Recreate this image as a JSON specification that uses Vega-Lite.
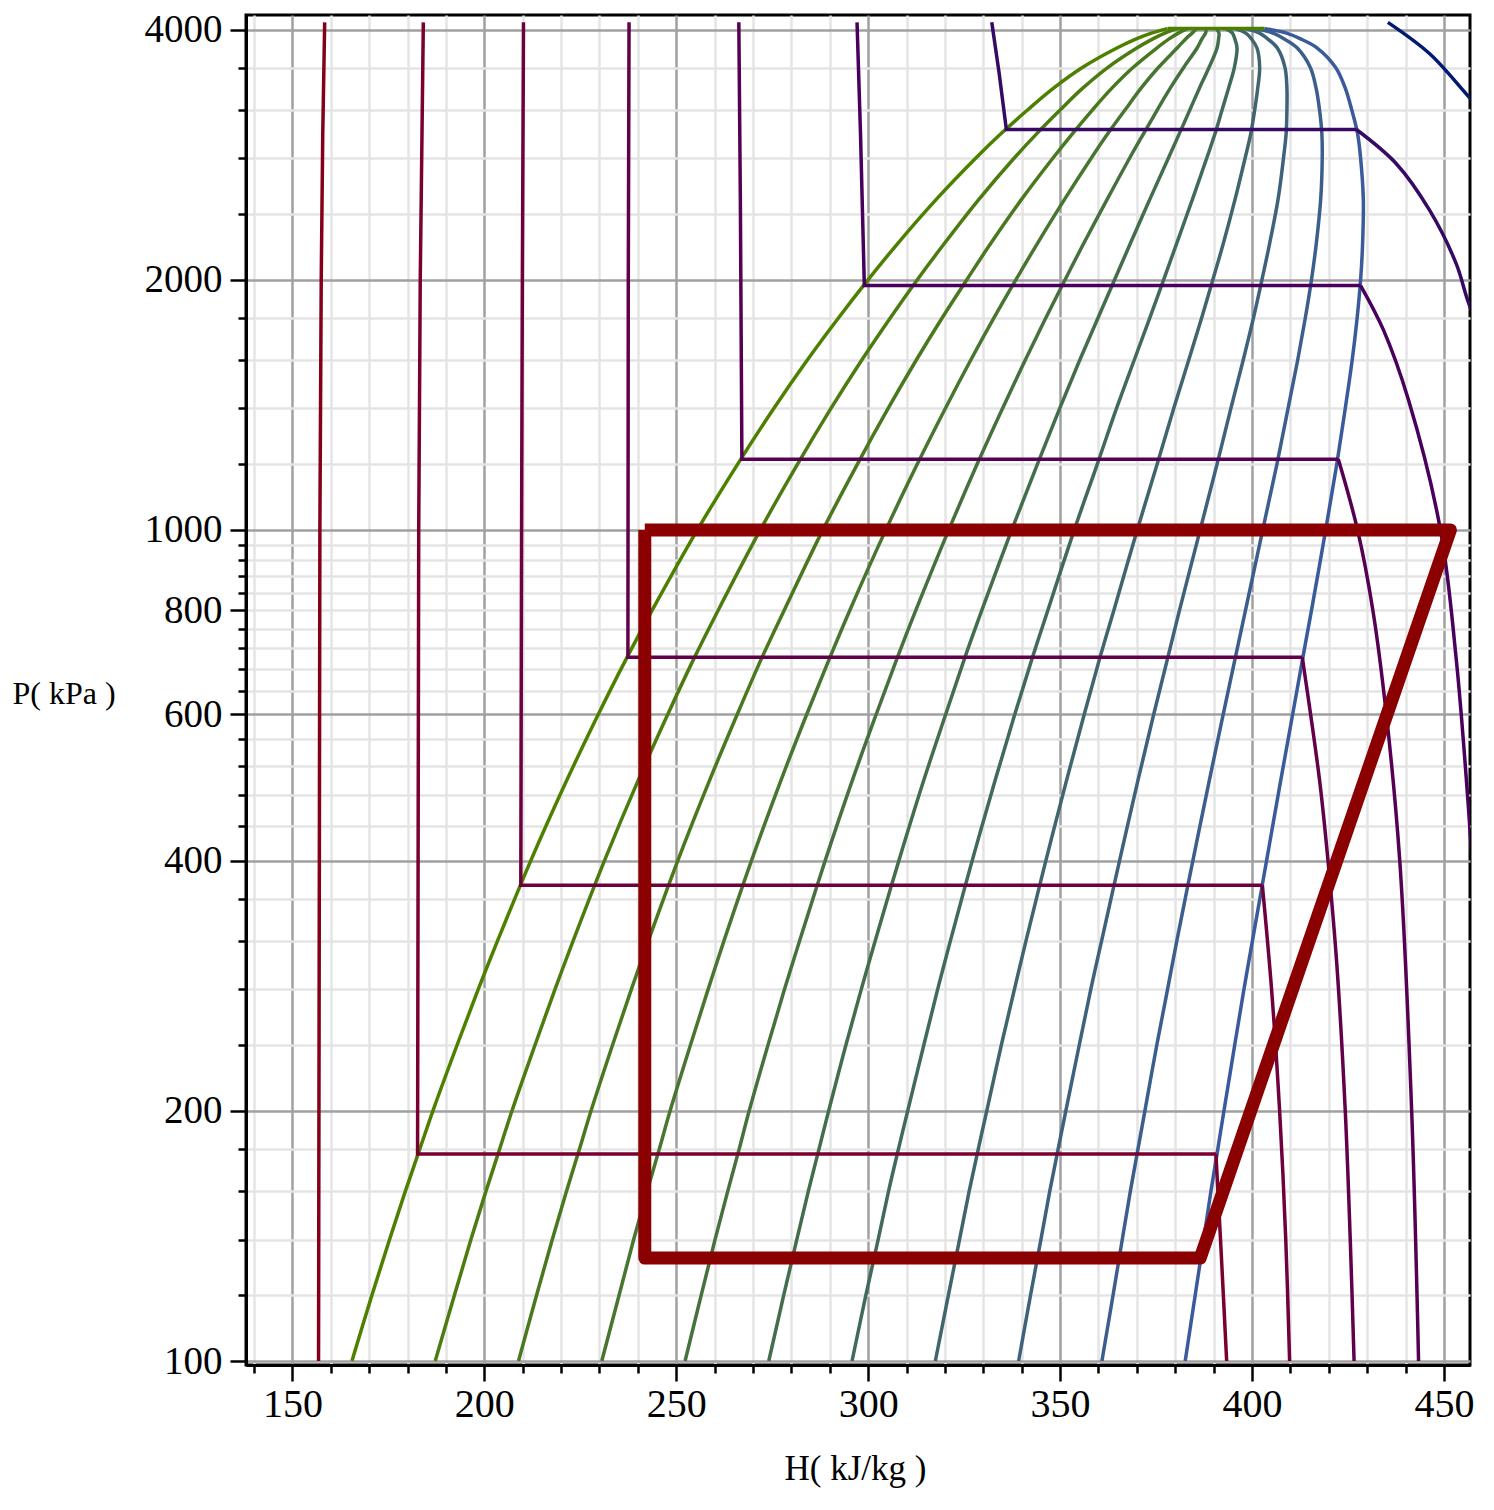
{
"$schema": "https://vega.github.io/schema/vega-lite/v6.json",
"width": 1224, "height": 1350,
"autosize": {"type": "none"},
"padding": {"left": 246, "top": 15, "right": 24, "bottom": 145},
"background": "white",
"config": {"view": {"stroke": "black", "strokeWidth": 3}, "font": "Liberation Serif"},
"datasets": {
"q": [
{"s":"q0","h":165.5,"p":100},{"s":"q0","h":170.7,"p":120},{"s":"q0","h":175.3,"p":140},{"s":"q0","h":179.4,"p":160},{"s":"q0","h":183.2,"p":180},{"s":"q0","h":186.6,"p":200},{"s":"q0","h":192.9,"p":240},{"s":"q0","h":198.4,"p":280},{"s":"q0","h":203.4,"p":320},{"s":"q0","h":212.1,"p":400},{"s":"q0","h":221.5,"p":500},{"s":"q0","h":229.7,"p":600},{"s":"q0","h":237.0,"p":700},{"s":"q0","h":243.7,"p":800},{"s":"q0","h":255.5,"p":1000},{"s":"q0","h":266.0,"p":1200},{"s":"q0","h":275.4,"p":1400},{"s":"q0","h":284.1,"p":1600},{"s":"q0","h":292.3,"p":1800},{"s":"q0","h":300.0,"p":2000},{"s":"q0","h":307.3,"p":2200},{"s":"q0","h":317.8,"p":2500},{"s":"q0","h":328.0,"p":2800},{"s":"q0","h":334.7,"p":3000},{"s":"q0","h":341.5,"p":3200},{"s":"q0","h":348.3,"p":3400},{"s":"q0","h":355.8,"p":3600},{"s":"q0","h":364.8,"p":3800},{"s":"q0","h":370.0,"p":3900},{"s":"q0","h":373.8,"p":3960},{"s":"q0","h":378.0,"p":4010},
{"s":"q1","h":187.2,"p":100},{"s":"q1","h":192.2,"p":120},{"s":"q1","h":196.5,"p":140},{"s":"q1","h":200.4,"p":160},{"s":"q1","h":204.0,"p":180},{"s":"q1","h":207.2,"p":200},{"s":"q1","h":213.2,"p":240},{"s":"q1","h":218.4,"p":280},{"s":"q1","h":223.1,"p":320},{"s":"q1","h":231.3,"p":400},{"s":"q1","h":240.1,"p":500},{"s":"q1","h":247.8,"p":600},{"s":"q1","h":254.6,"p":700},{"s":"q1","h":260.9,"p":800},{"s":"q1","h":271.9,"p":1000},{"s":"q1","h":281.6,"p":1200},{"s":"q1","h":290.3,"p":1400},{"s":"q1","h":298.3,"p":1600},{"s":"q1","h":305.8,"p":1800},{"s":"q1","h":312.8,"p":2000},{"s":"q1","h":319.5,"p":2200},{"s":"q1","h":328.9,"p":2500},{"s":"q1","h":338.0,"p":2800},{"s":"q1","h":344.0,"p":3000},{"s":"q1","h":350.0,"p":3200},{"s":"q1","h":355.9,"p":3400},{"s":"q1","h":362.4,"p":3600},{"s":"q1","h":370.0,"p":3800},{"s":"q1","h":374.3,"p":3900},{"s":"q1","h":377.3,"p":3960},{"s":"q1","h":380.5,"p":4010},
{"s":"q2","h":208.9,"p":100},{"s":"q2","h":213.6,"p":120},{"s":"q2","h":217.7,"p":140},{"s":"q2","h":221.4,"p":160},{"s":"q2","h":224.8,"p":180},{"s":"q2","h":227.8,"p":200},{"s":"q2","h":233.4,"p":240},{"s":"q2","h":238.3,"p":280},{"s":"q2","h":242.7,"p":320},{"s":"q2","h":250.4,"p":400},{"s":"q2","h":258.7,"p":500},{"s":"q2","h":265.9,"p":600},{"s":"q2","h":272.2,"p":700},{"s":"q2","h":278.1,"p":800},{"s":"q2","h":288.2,"p":1000},{"s":"q2","h":297.2,"p":1200},{"s":"q2","h":305.2,"p":1400},{"s":"q2","h":312.5,"p":1600},{"s":"q2","h":319.3,"p":1800},{"s":"q2","h":325.7,"p":2000},{"s":"q2","h":331.6,"p":2200},{"s":"q2","h":340.0,"p":2500},{"s":"q2","h":348.1,"p":2800},{"s":"q2","h":353.3,"p":3000},{"s":"q2","h":358.4,"p":3200},{"s":"q2","h":363.5,"p":3400},{"s":"q2","h":369.0,"p":3600},{"s":"q2","h":375.2,"p":3800},{"s":"q2","h":378.5,"p":3900},{"s":"q2","h":380.8,"p":3960},{"s":"q2","h":383.1,"p":4010},
{"s":"q3","h":230.6,"p":100},{"s":"q3","h":235.1,"p":120},{"s":"q3","h":238.9,"p":140},{"s":"q3","h":242.4,"p":160},{"s":"q3","h":245.6,"p":180},{"s":"q3","h":248.4,"p":200},{"s":"q3","h":253.7,"p":240},{"s":"q3","h":258.3,"p":280},{"s":"q3","h":262.4,"p":320},{"s":"q3","h":269.6,"p":400},{"s":"q3","h":277.3,"p":500},{"s":"q3","h":284.0,"p":600},{"s":"q3","h":289.9,"p":700},{"s":"q3","h":295.2,"p":800},{"s":"q3","h":304.6,"p":1000},{"s":"q3","h":312.8,"p":1200},{"s":"q3","h":320.1,"p":1400},{"s":"q3","h":326.7,"p":1600},{"s":"q3","h":332.8,"p":1800},{"s":"q3","h":338.5,"p":2000},{"s":"q3","h":343.8,"p":2200},{"s":"q3","h":351.2,"p":2500},{"s":"q3","h":358.1,"p":2800},{"s":"q3","h":362.5,"p":3000},{"s":"q3","h":366.9,"p":3200},{"s":"q3","h":371.1,"p":3400},{"s":"q3","h":375.6,"p":3600},{"s":"q3","h":380.5,"p":3800},{"s":"q3","h":382.8,"p":3900},{"s":"q3","h":384.4,"p":3960},{"s":"q3","h":385.6,"p":4010},
{"s":"q4","h":252.3,"p":100},{"s":"q4","h":256.5,"p":120},{"s":"q4","h":260.1,"p":140},{"s":"q4","h":263.4,"p":160},{"s":"q4","h":266.4,"p":180},{"s":"q4","h":269.0,"p":200},{"s":"q4","h":273.9,"p":240},{"s":"q4","h":278.2,"p":280},{"s":"q4","h":282.1,"p":320},{"s":"q4","h":288.8,"p":400},{"s":"q4","h":295.9,"p":500},{"s":"q4","h":302.1,"p":600},{"s":"q4","h":307.5,"p":700},{"s":"q4","h":312.4,"p":800},{"s":"q4","h":321.0,"p":1000},{"s":"q4","h":328.4,"p":1200},{"s":"q4","h":335.0,"p":1400},{"s":"q4","h":340.9,"p":1600},{"s":"q4","h":346.3,"p":1800},{"s":"q4","h":351.3,"p":2000},{"s":"q4","h":355.9,"p":2200},{"s":"q4","h":362.3,"p":2500},{"s":"q4","h":368.1,"p":2800},{"s":"q4","h":371.8,"p":3000},{"s":"q4","h":375.3,"p":3200},{"s":"q4","h":378.7,"p":3400},{"s":"q4","h":382.2,"p":3600},{"s":"q4","h":385.7,"p":3800},{"s":"q4","h":387.0,"p":3900},{"s":"q4","h":387.9,"p":3960},{"s":"q4","h":388.1,"p":4010},
{"s":"q5","h":274.1,"p":100},{"s":"q5","h":278.0,"p":120},{"s":"q5","h":281.4,"p":140},{"s":"q5","h":284.4,"p":160},{"s":"q5","h":287.2,"p":180},{"s":"q5","h":289.7,"p":200},{"s":"q5","h":294.2,"p":240},{"s":"q5","h":298.2,"p":280},{"s":"q5","h":301.8,"p":320},{"s":"q5","h":308.0,"p":400},{"s":"q5","h":314.5,"p":500},{"s":"q5","h":320.2,"p":600},{"s":"q5","h":325.1,"p":700},{"s":"q5","h":329.6,"p":800},{"s":"q5","h":337.4,"p":1000},{"s":"q5","h":344.1,"p":1200},{"s":"q5","h":349.9,"p":1400},{"s":"q5","h":355.1,"p":1600},{"s":"q5","h":359.9,"p":1800},{"s":"q5","h":364.2,"p":2000},{"s":"q5","h":368.1,"p":2200},{"s":"q5","h":373.4,"p":2500},{"s":"q5","h":378.2,"p":2800},{"s":"q5","h":381.1,"p":3000},{"s":"q5","h":383.8,"p":3200},{"s":"q5","h":386.3,"p":3400},{"s":"q5","h":388.8,"p":3600},{"s":"q5","h":390.9,"p":3800},{"s":"q5","h":391.3,"p":3900},{"s":"q5","h":391.4,"p":3960},{"s":"q5","h":390.7,"p":4010},
{"s":"q6","h":295.8,"p":100},{"s":"q6","h":299.4,"p":120},{"s":"q6","h":302.6,"p":140},{"s":"q6","h":305.3,"p":160},{"s":"q6","h":307.9,"p":180},{"s":"q6","h":310.3,"p":200},{"s":"q6","h":314.5,"p":240},{"s":"q6","h":318.1,"p":280},{"s":"q6","h":321.4,"p":320},{"s":"q6","h":327.1,"p":400},{"s":"q6","h":333.1,"p":500},{"s":"q6","h":338.2,"p":600},{"s":"q6","h":342.7,"p":700},{"s":"q6","h":346.8,"p":800},{"s":"q6","h":353.7,"p":1000},{"s":"q6","h":359.7,"p":1200},{"s":"q6","h":364.7,"p":1400},{"s":"q6","h":369.3,"p":1600},{"s":"q6","h":373.4,"p":1800},{"s":"q6","h":377.0,"p":2000},{"s":"q6","h":380.2,"p":2200},{"s":"q6","h":384.5,"p":2500},{"s":"q6","h":388.2,"p":2800},{"s":"q6","h":390.4,"p":3000},{"s":"q6","h":392.2,"p":3200},{"s":"q6","h":393.9,"p":3400},{"s":"q6","h":395.4,"p":3600},{"s":"q6","h":396.1,"p":3800},{"s":"q6","h":395.5,"p":3900},{"s":"q6","h":394.9,"p":3960},{"s":"q6","h":393.2,"p":4010},
{"s":"q7","h":317.5,"p":100},{"s":"q7","h":320.9,"p":120},{"s":"q7","h":323.8,"p":140},{"s":"q7","h":326.3,"p":160},{"s":"q7","h":328.7,"p":180},{"s":"q7","h":330.9,"p":200},{"s":"q7","h":334.7,"p":240},{"s":"q7","h":338.1,"p":280},{"s":"q7","h":341.1,"p":320},{"s":"q7","h":346.3,"p":400},{"s":"q7","h":351.7,"p":500},{"s":"q7","h":356.3,"p":600},{"s":"q7","h":360.3,"p":700},{"s":"q7","h":364.0,"p":800},{"s":"q7","h":370.1,"p":1000},{"s":"q7","h":375.3,"p":1200},{"s":"q7","h":379.6,"p":1400},{"s":"q7","h":383.5,"p":1600},{"s":"q7","h":386.9,"p":1800},{"s":"q7","h":389.8,"p":2000},{"s":"q7","h":392.4,"p":2200},{"s":"q7","h":395.6,"p":2500},{"s":"q7","h":398.2,"p":2800},{"s":"q7","h":399.7,"p":3000},{"s":"q7","h":400.7,"p":3200},{"s":"q7","h":401.5,"p":3400},{"s":"q7","h":402.0,"p":3600},{"s":"q7","h":401.3,"p":3800},{"s":"q7","h":399.8,"p":3900},{"s":"q7","h":398.4,"p":3960},{"s":"q7","h":395.7,"p":4010},
{"s":"q8","h":339.2,"p":100},{"s":"q8","h":342.3,"p":120},{"s":"q8","h":345.0,"p":140},{"s":"q8","h":347.3,"p":160},{"s":"q8","h":349.5,"p":180},{"s":"q8","h":351.5,"p":200},{"s":"q8","h":355.0,"p":240},{"s":"q8","h":358.0,"p":280},{"s":"q8","h":360.8,"p":320},{"s":"q8","h":365.5,"p":400},{"s":"q8","h":370.3,"p":500},{"s":"q8","h":374.4,"p":600},{"s":"q8","h":378.0,"p":700},{"s":"q8","h":381.1,"p":800},{"s":"q8","h":386.5,"p":1000},{"s":"q8","h":390.9,"p":1200},{"s":"q8","h":394.5,"p":1400},{"s":"q8","h":397.7,"p":1600},{"s":"q8","h":400.4,"p":1800},{"s":"q8","h":402.6,"p":2000},{"s":"q8","h":404.5,"p":2200},{"s":"q8","h":406.8,"p":2500},{"s":"q8","h":408.2,"p":2800},{"s":"q8","h":408.9,"p":3000},{"s":"q8","h":409.1,"p":3200},{"s":"q8","h":409.1,"p":3400},{"s":"q8","h":408.6,"p":3600},{"s":"q8","h":406.6,"p":3800},{"s":"q8","h":404.0,"p":3900},{"s":"q8","h":402.0,"p":3960},{"s":"q8","h":398.2,"p":4010},
{"s":"q9","h":360.9,"p":100},{"s":"q9","h":363.8,"p":120},{"s":"q9","h":366.2,"p":140},{"s":"q9","h":368.3,"p":160},{"s":"q9","h":370.3,"p":180},{"s":"q9","h":372.1,"p":200},{"s":"q9","h":375.2,"p":240},{"s":"q9","h":378.0,"p":280},{"s":"q9","h":380.4,"p":320},{"s":"q9","h":384.6,"p":400},{"s":"q9","h":388.9,"p":500},{"s":"q9","h":392.5,"p":600},{"s":"q9","h":395.6,"p":700},{"s":"q9","h":398.3,"p":800},{"s":"q9","h":402.8,"p":1000},{"s":"q9","h":406.5,"p":1200},{"s":"q9","h":409.4,"p":1400},{"s":"q9","h":411.9,"p":1600},{"s":"q9","h":413.9,"p":1800},{"s":"q9","h":415.5,"p":2000},{"s":"q9","h":416.7,"p":2200},{"s":"q9","h":417.9,"p":2500},{"s":"q9","h":418.3,"p":2800},{"s":"q9","h":418.2,"p":3000},{"s":"q9","h":417.6,"p":3200},{"s":"q9","h":416.7,"p":3400},{"s":"q9","h":415.2,"p":3600},{"s":"q9","h":411.8,"p":3800},{"s":"q9","h":408.3,"p":3900},{"s":"q9","h":405.5,"p":3960},{"s":"q9","h":400.8,"p":4010},
{"s":"q10","h":382.6,"p":100},{"s":"q10","h":385.2,"p":120},{"s":"q10","h":387.4,"p":140},{"s":"q10","h":389.3,"p":160},{"s":"q10","h":391.1,"p":180},{"s":"q10","h":392.7,"p":200},{"s":"q10","h":395.5,"p":240},{"s":"q10","h":397.9,"p":280},{"s":"q10","h":400.1,"p":320},{"s":"q10","h":403.8,"p":400},{"s":"q10","h":407.5,"p":500},{"s":"q10","h":410.6,"p":600},{"s":"q10","h":413.2,"p":700},{"s":"q10","h":415.5,"p":800},{"s":"q10","h":419.2,"p":1000},{"s":"q10","h":422.1,"p":1200},{"s":"q10","h":424.3,"p":1400},{"s":"q10","h":426.1,"p":1600},{"s":"q10","h":427.4,"p":1800},{"s":"q10","h":428.3,"p":2000},{"s":"q10","h":428.8,"p":2200},{"s":"q10","h":429.0,"p":2500},{"s":"q10","h":428.3,"p":2800},{"s":"q10","h":427.5,"p":3000},{"s":"q10","h":426.0,"p":3200},{"s":"q10","h":424.3,"p":3400},{"s":"q10","h":421.8,"p":3600},{"s":"q10","h":417.0,"p":3800},{"s":"q10","h":412.5,"p":3900},{"s":"q10","h":409.0,"p":3960},{"s":"q10","h":403.3,"p":4010}
],
"t": [
{"s":"top","h":378.0,"p":4010},{"s":"top","h":403.3,"p":4010},
{"s":"t240","h":158.4,"p":4080},{"s":"t240","h":157.9,"p":3000},{"s":"t240","h":157.5,"p":2000},{"s":"t240","h":157.15,"p":1000},{"s":"t240","h":156.8,"p":100},
{"s":"t260","h":184.1,"p":4080},{"s":"t260","h":183.3,"p":2000},{"s":"t260","h":182.9,"p":1000},{"s":"t260","h":182.6,"p":177.4},{"s":"t260","h":390.6,"p":177.4},
{"s":"t280","h":210.2,"p":4080},{"s":"t280","h":209.9,"p":2000},{"s":"t280","h":209.7,"p":1000},{"s":"t280","h":209.5,"p":373.7},{"s":"t280","h":402.7,"p":373.7},
{"s":"t300","h":237.7,"p":4080},{"s":"t300","h":237.5,"p":2000},{"s":"t300","h":237.4,"p":702.7},{"s":"t300","h":413.1,"p":702.7},
{"s":"t320","h":266.3,"p":4080},{"s":"t320","h":266.7,"p":2500},{"s":"t320","h":267.1,"p":1216},{"s":"t320","h":422.5,"p":1216},
{"s":"t340","h":297.1,"p":4080},{"s":"t340","h":298.0,"p":3000},{"s":"t340","h":299.0,"p":1968},{"s":"t340","h":428.3,"p":1968},
{"s":"t360","h":332.2,"p":4080},{"s":"t360","h":334.1,"p":3550},{"s":"t360","h":336.0,"p":3032},{"s":"t360","h":427.2,"p":3032}
],
"v": [
{"s":"t260","h":390.6,"p":177.4},{"s":"t260","h":391.8,"p":140},{"s":"t260","h":393.4,"p":100},
{"s":"t280","h":402.7,"p":373.7},{"s":"t280","h":405.1,"p":280},{"s":"t280","h":407.2,"p":200},{"s":"t280","h":408.8,"p":140},{"s":"t280","h":409.8,"p":100},
{"s":"t300","h":413.1,"p":702.7},{"s":"t300","h":417.6,"p":500},{"s":"t300","h":419.8,"p":400},{"s":"t300","h":422.1,"p":300},{"s":"t300","h":424.3,"p":200},{"s":"t300","h":425.6,"p":140},{"s":"t300","h":426.6,"p":100},
{"s":"t320","h":422.5,"p":1216},{"s":"t320","h":427.5,"p":1000},{"s":"t320","h":431.5,"p":800},{"s":"t320","h":435.0,"p":600},{"s":"t320","h":438.5,"p":400},{"s":"t320","h":441.6,"p":200},{"s":"t320","h":443.4,"p":100},
{"s":"t340","h":428.3,"p":1968},{"s":"t340","h":434.3,"p":1738},{"s":"t340","h":440.8,"p":1432},{"s":"t340","h":449.1,"p":1000},{"s":"t340","h":453.2,"p":700},{"s":"t340","h":456.5,"p":456},{"s":"t340","h":459.0,"p":300},
{"s":"t360","h":427.2,"p":3032},{"s":"t360","h":437.6,"p":2758},{"s":"t360","h":446.3,"p":2423},{"s":"t360","h":453.2,"p":2091},{"s":"t360","h":456.2,"p":1889},{"s":"t360","h":460.0,"p":1700},
{"s":"t380","h":435.4,"p":4080},{"s":"t380","h":446.3,"p":3740},{"s":"t380","h":456.2,"p":3331},{"s":"t380","h":461.0,"p":3150}
],
"c": [
{"s":"cycle","h":241.8,"p":1000},{"s":"cycle","h":451.7,"p":1000},{"s":"cycle","h":386.5,"p":133},{"s":"cycle","h":241.8,"p":133},{"s":"cycle","h":241.8,"p":1000}
]
},
"encoding": {
"x": {"field": "h", "type": "quantitative",
 "scale": {"domain": [137.9, 456.8], "nice": false, "zero": false},
 "axis": {
  "values": [140,150,160,170,180,190,200,210,220,230,240,250,260,270,280,290,300,310,320,330,340,350,360,370,380,390,400,410,420,430,440,450],
  "format": "d",
  "labelExpr": "datum.value % 50 === 0 ? datum.label : ''",
  "labelFont": "Liberation Serif", "labelFontSize": 40, "labelColor": "black", "labelPadding": 3,
  "labelOverlap": false, "labelFlush": false,
  "domainColor": "black", "domainWidth": 3,
  "tickColor": "black", "tickWidth": 2.5,
  "tickSize": {"condition": {"test": "datum.value % 50 === 0", "value": 16}, "value": 8},
  "grid": true,
  "gridColor": {"condition": {"test": "datum.value % 50 === 0", "value": "#a0a0a0"}, "value": "#e4e4e4"},
  "gridWidth": 2.5,
  "title": "H( kJ/kg )",
  "titleFont": "Liberation Serif", "titleFontSize": 35, "titleFontWeight": "normal", "titleColor": "black",
  "titleX": 609, "titleY": 103, "titleAlign": "center", "titleBaseline": "middle"
 }},
"y": {"field": "p", "type": "quantitative",
 "scale": {"type": "log", "domain": [98.9, 4164], "nice": false},
 "axis": {
  "values": [100,120,140,160,180,200,240,280,320,360,400,440,480,520,560,600,640,680,720,760,800,840,880,920,960,1000,1200,1400,1600,1800,2000,2400,2800,3200,3600,4000],
  "format": "d",
  "labelExpr": "indexof([100,200,400,600,800,1000,2000,4000], datum.value) >= 0 ? datum.label : ''",
  "labelFont": "Liberation Serif", "labelFontSize": 39, "labelColor": "black", "labelPadding": 8,
  "labelOverlap": false, "labelFlush": false,
  "domainColor": "black", "domainWidth": 3,
  "tickColor": "black", "tickWidth": 2.5,
  "tickSize": {"condition": {"test": "indexof([100,200,400,600,800,1000,2000,4000], datum.value) >= 0", "value": 16}, "value": 8},
  "grid": true,
  "gridColor": {"condition": {"test": "indexof([100,200,400,600,1000,2000,4000], datum.value) >= 0", "value": "#a0a0a0"}, "value": "#e4e4e4"},
  "gridWidth": 2.5,
  "title": "P( kPa )",
  "titleFont": "Liberation Serif", "titleFontSize": 32, "titleFontWeight": "normal", "titleColor": "black",
  "titleAngle": 0, "titleX": -234, "titleY": 678, "titleAlign": "left", "titleBaseline": "middle"
 }}
},
"layer": [
{"data": {"name": "q"},
 "mark": {"type": "line", "strokeWidth": 3.5, "clip": true, "interpolate": "catmull-rom"},
 "encoding": {
  "color": {"field": "s", "type": "nominal", "legend": null,
   "scale": {"domain": ["q0","q1","q2","q3","q4","q5","q6","q7","q8","q9","q10"],
    "range": ["#4e8000","#4c7c10","#4a781f","#48752f","#46713e","#446d4e","#42695d","#40656d","#3e627c","#3c5e8c","#3a5a9b"]}},
  "order": {"value": null}
 }},
{"data": {"name": "t"},
 "mark": {"type": "line", "strokeWidth": 3.5, "clip": true},
 "encoding": {
  "color": {"field": "s", "type": "nominal", "legend": null,
   "scale": {"domain": ["top","t240","t260","t280","t300","t320","t340","t360"],
    "range": ["#4e8000","#840018","#7a0030","#6e003e","#62004a","#560054","#48005c","#360a64"]}},
  "order": {"value": null}
 }},
{"data": {"name": "v"},
 "mark": {"type": "line", "strokeWidth": 3.5, "clip": true, "interpolate": "catmull-rom"},
 "encoding": {
  "color": {"field": "s", "type": "nominal", "legend": null,
   "scale": {"domain": ["t260","t280","t300","t320","t340","t360","t380"],
    "range": ["#7a0030","#6e003e","#62004a","#560054","#48005c","#360a64","#001a72"]}},
  "order": {"value": null}
 }},
{"data": {"name": "c"},
 "mark": {"type": "line", "strokeWidth": 13, "color": "#8b0000", "strokeJoin": "round", "clip": true},
 "encoding": {"order": {"value": null}}
}
],
"resolve": {"scale": {"color": "independent"}}
}
